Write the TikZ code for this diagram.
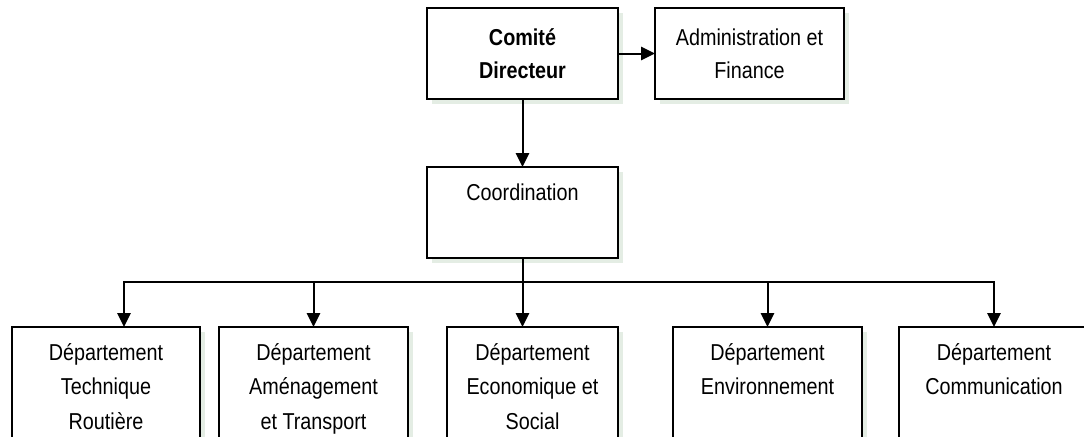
\documentclass[tikz,border=0pt]{standalone}
\usepackage{fontspec}
\setmainfont{Liberation Sans}[FakeStretch=0.86]
\usetikzlibrary{arrows.meta,positioning,shadows,calc}
\definecolor{shade}{RGB}{228,237,228}
\newcommand{\toptext}[3]{\parbox[b][#2][t]{#1}{\centering\rule{0pt}{24.75pt}#3}}

\begin{document}
\begin{tikzpicture}[x=0.75pt,y=0.75pt,>={Triangle[length=10.5pt,width=10pt]},
  line width=1.5pt,font=\fontsize{17.25}{26}\selectfont,
  unit/.style={draw,inner sep=0pt,outer sep=0pt,fill=white,
    drop shadow={shadow xshift=3.5pt,shadow yshift=-3.5pt,fill=shade,opacity=1}},
  board/.style={unit,minimum width=143.25pt,minimum height=68.25pt,align=center},
  dept/.style={unit,anchor=north}]
  \path[use as bounding box,clip] (0,0) rectangle (1084,-436);
  \node[board,font=\fontsize{17.25}{24.5}\selectfont\bfseries] (comite) at (522.5,-53.5) {Comité\\Directeur};
  \node[board,minimum width=141.75pt,font=\fontsize{17.25}{24.5}\selectfont] (admin) [right=27.75pt of comite] {Administration et\\Finance};
  \node[unit] (coord) [below=51pt of comite] {\toptext{143.25pt}{68.25pt}{Coordination}};
  \node[dept] (dep-route) at (106,-327) {\toptext{141pt}{92pt}{Département\\Technique\\Routière}};
  \node[dept] (dep-amen) [right=14.25pt of dep-route] {\toptext{141.75pt}{92pt}{Département\\Aménagement\\et Transport}};
  \node[dept] (dep-eco) [right=29.25pt of dep-amen] {\toptext{128.25pt}{92pt}{Département\\Economique et\\Social}};
  \node[dept] (dep-env) [right=41.25pt of dep-eco] {\toptext{141.75pt}{92pt}{Département\\Environnement}};
  \node[dept] (dep-com) [right=27.75pt of dep-env] {\toptext{142.5pt}{92pt}{Département\\Communication}};
  \coordinate (bus) at ($(coord.south)+(0,-18pt)$);
  \draw[->] (comite) -- (admin);
  \draw[->] (comite) -- (coord);
  \draw (coord) -- (bus);
  \draw[->] (bus) -| ([xshift=13.5pt]dep-route.north);
  \draw[->] (bus) -| (dep-amen);
  \draw[->] (coord) -- (dep-eco.north -| coord.south);
  \draw[->] (bus) -| (dep-env);
  \draw[->] (bus) -| (dep-com);
\end{tikzpicture}
\end{document}
